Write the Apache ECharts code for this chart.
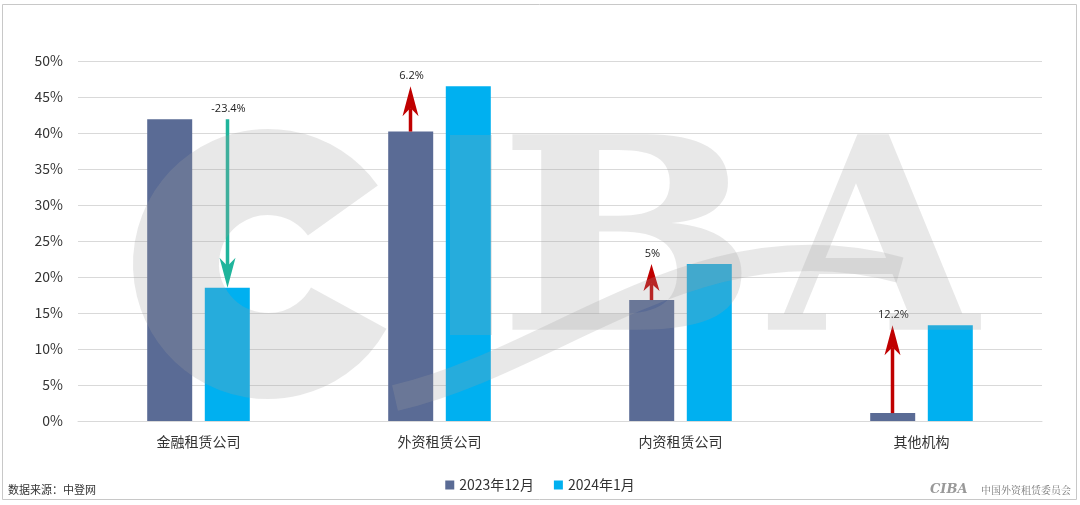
<!DOCTYPE html>
<html><head><meta charset="utf-8">
<script src="https://cdn.jsdelivr.net/npm/echarts@6/dist/echarts.min.js"></script>
<style>html,body{margin:0;padding:0;background:#fff}#c{width:1080px;height:505px}</style>
</head><body><div id="c"></div>
<script>
const categories = ['金融租赁公司', '外资租赁公司', '内资租赁公司', '其他机构'];
const seriesNames = ['2023年12月', '2024年1月'];
const dec2023 = [41.9, 40.2, 16.8, 1.1];
const jan2024 = [18.5, 46.5, 21.8, 13.3];
const yTicks = [0, 5, 10, 15, 20, 25, 30, 35, 40, 45, 50];
const changeLabels = ['-23.4%', '6.2%', '5%', '12.2%'];
const arrowOnBar = [1, 0, 0, 0]; // which bar of the pair the arrow is drawn over
const sourceText = '数据来源：中登网';
const logoText = '中国外资租赁委员会';

const FONT = '"Noto Sans CJK SC", "Noto Sans", sans-serif';
const WM = 'rgba(160,160,160,0.24)';
const arrowData = categories.map((c, i) => [i, dec2023[i], jan2024[i], arrowOnBar[i]]);

const chart = echarts.init(document.getElementById('c'));
chart.setOption({
  animation: false,
  backgroundColor: '#fff',
  grid: { left: 78, right: 38, top: 61, bottom: 84 },
  legend: {
    data: seriesNames, bottom: 8, left: 'center', itemWidth: 9, itemHeight: 9, itemGap: 20,
    icon: 'rect', textStyle: { fontFamily: FONT, fontSize: 14, color: '#333' }
  },
  xAxis: {
    type: 'category', data: categories,
    axisLine: { lineStyle: { color: '#d9d9d9' } }, axisTick: { show: false },
    axisLabel: { fontFamily: FONT, fontSize: 14, color: '#333', margin: 14 }
  },
  yAxis: {
    type: 'value', min: yTicks[0], max: yTicks[yTicks.length - 1], interval: 5,
    axisLine: { show: false }, axisTick: { show: false },
    splitLine: { lineStyle: { color: '#d9d9d9' } },
    axisLabel: { fontFamily: FONT, fontSize: 14, color: '#333', margin: 15, formatter: v => v + '%' }
  },
  series: [
    { name: seriesNames[0], type: 'bar', data: dec2023, barWidth: 45, barGap: '28%', itemStyle: { color: '#5a6b95' } },
    { name: seriesNames[1], type: 'bar', data: jan2024, barWidth: 45, itemStyle: { color: '#00b0f0' } },
    {
      type: 'custom', data: arrowData, z: 5, silent: true,
      renderItem: function (params, api) {
        const i = api.value(0), from = api.value(1), to = api.value(2), side = api.value(3);
        const cx = api.coord([i, 0])[0];
        const off = (side === 0 ? -1 : 1) * 29;
        const x = cx + off;
        const y1 = api.coord([i, from])[1];
        const y2 = api.coord([i, to])[1];
        const d = y2 < y1 ? 1 : -1; // 1 = pointing up
        const color = d === 1 ? '#c00000' : '#20b59c';
        const hl = Math.min(30, Math.abs(y1 - y2) * 0.75), hw = 8, notch = hl * 0.27;
        const topY = Math.min(y1, y2);
        return {
          type: 'group',
          children: [
            { type: 'line', shape: { x1: x, y1: y1, x2: x, y2: y2 + d * (hl - notch) }, style: { stroke: color, lineWidth: 3.5 } },
            { type: 'polygon', shape: { points: [[x, y2], [x - hw, y2 + d * hl], [x, y2 + d * (hl - notch)], [x + hw, y2 + d * hl]] }, style: { fill: color } },
            { type: 'text', x: x + 1, y: topY - 10, style: { text: changeLabels[i], fontFamily: '"Open Sans", sans-serif', fontSize: 11, fill: '#222', align: 'center', verticalAlign: 'middle' } }
          ]
        };
      }
    }
  ],
  graphic: [
    { type: 'rect', shape: { x: 2.5, y: 4.5, width: 1074, height: 495 }, style: { fill: 'none', stroke: '#c8c8c8', lineWidth: 1 }, z: 0 },
    { type: 'arc', z: 100, silent: true, shape: { cx: 268, cy: 264, r: 92, startAngle: -0.62, endAngle: 0.5, clockwise: false }, style: { stroke: WM, lineWidth: 86, fill: 'none' } },
    { type: 'rect', z: 100, silent: true, shape: { x: 450, y: 135, width: 42, height: 200 }, style: { fill: WM } },
    { type: 'text', left: 498, top: 126, z: 100, silent: true, style: { text: 'B', fontFamily: 'DejaVu Serif', fontWeight: 'bold', fontSize: 268, fill: WM }, scaleX: 1.15 },
    { type: 'text', left: 770, top: 126, z: 100, silent: true, style: { text: 'A', fontFamily: 'DejaVu Serif', fontWeight: 'bold', fontSize: 268, fill: WM } },
    { type: 'bezierCurve', z: 100, silent: true, shape: { x1: 395, y1: 398, cpx1: 560, cpy1: 360, cpx2: 700, cpy2: 215, x2: 900, y2: 270 }, style: { stroke: WM, lineWidth: 26, fill: 'none' } },
    { type: 'text', left: 8, top: 484, style: { text: sourceText, fontFamily: FONT, fontSize: 11, fill: '#333' } },
    { type: 'text', left: 930, top: 483, style: { text: 'CIBA', font: 'bold italic 13px "DejaVu Serif"', fill: '#999' } },
    { type: 'text', left: 981, top: 485, style: { text: logoText, font: '10px "Noto Serif CJK SC", "Noto Sans CJK SC", serif', fill: '#777' } }
  ]
});
</script></body></html>
